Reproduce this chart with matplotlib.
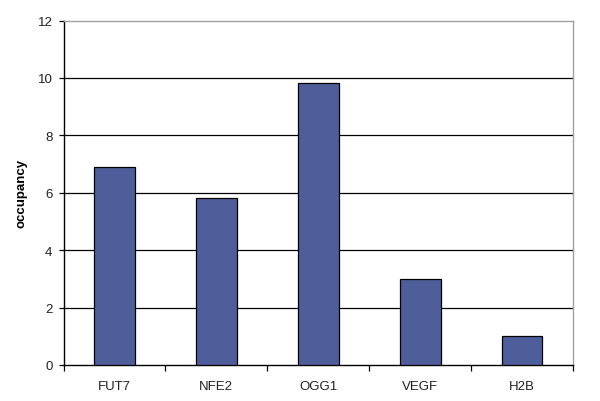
import numpy as np
import matplotlib.pyplot as plt

genes = ['FUT7', 'NFE2', 'OGG1', 'VEGF', 'H2B']
occupancy = [6.9, 5.8, 9.83, 3.0, 1.0]
yticks = [0, 2, 4, 6, 8, 10, 12]

plt.rcParams['font.family'] = ['Liberation Sans', 'DejaVu Sans']

fig = plt.figure(figsize=(6, 4.02), dpi=100)
# axes box placed to match the reference pixels
ax = fig.add_axes([63.5/600, 1 - 366/402, (573-63.5)/600, (366-21.5)/402])

x = np.arange(len(genes))
ax.bar(x, occupancy, width=0.4, color='#4E5E9B', edgecolor='black', linewidth=0.9, zorder=3)

ax.set_xlim(-0.5, len(genes) - 0.5)
ax.set_ylim(0, 12)
ax.set_yticks(yticks)
ax.set_yticklabels([str(t) for t in yticks], fontsize=9.5, color='#222222')

# category labels between boundary ticks
ax.set_xticks(x)
ax.set_xticklabels(genes, fontsize=9.5, color='#222222')
ax.tick_params(axis='x', which='major', length=0, pad=11)
ax.set_xticks(np.arange(len(genes) + 1) - 0.5, minor=True)
ax.tick_params(axis='x', which='minor', length=4, direction='out', width=0.9)
ax.tick_params(axis='y', length=3.6, width=0.9, pad=4.3)

for t in yticks[1:-1]:
    ax.axhline(t, color='black', linewidth=0.9, zorder=1)

for s in ['top', 'right']:
    ax.spines[s].set_color('#a0a0a0')
    ax.spines[s].set_linewidth(1.0)
for s in ['left', 'bottom']:
    ax.spines[s].set_color('black')
    ax.spines[s].set_linewidth(1.0)

ax.set_ylabel('occupancy', fontsize=9.5, fontweight='bold')
ax.yaxis.set_label_coords(-0.0716, 0.5)

fig.savefig('out.png', dpi=100, facecolor='white')
